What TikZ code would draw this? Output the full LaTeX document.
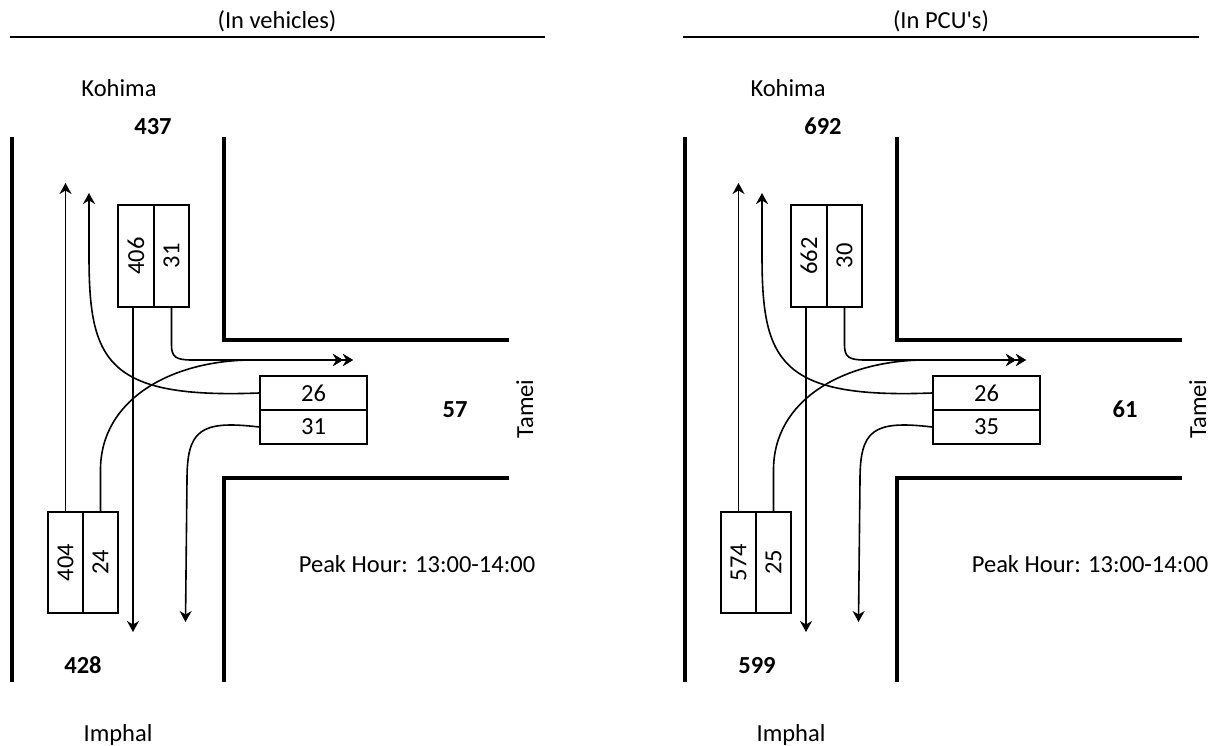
\documentclass[tikz,border=0pt]{standalone}
\usepackage{fontspec}
\setmainfont{Carlito}[Ligatures=TeXOff]
\usetikzlibrary{arrows.meta}
\tikzset{
  road/.style={line width=4pt},
  rulerline/.style={line width=2pt},
  cell/.style={draw, line width=1.8pt, inner sep=0pt, font=\fontsize{24.5}{26}\selectfont},
  flow/.style={line width=1.6pt, -{Stealth[length=11pt,width=12pt,inset=3.5pt]}},
  flowtwo/.style={line width=1.6pt, -{Stealth[length=10pt,width=12pt,inset=3.5pt]Stealth[length=10pt,width=12pt,inset=3.5pt]}},
  lbl/.style={font=\fontsize{24.5}{26}\selectfont, inner sep=0pt},
  tot/.style={font=\fontsize{24.5}{26}\selectfont\bfseries, inner sep=0pt},
}
\newcommand\junction[7]{%
  \draw[road] (12,137) -- (12,682);
  \draw[road] (224,137) -- (224,340) -- (509,340);
  \draw[road] (509,478) -- (224,478) -- (224,682);
  \node[cell, minimum width=36pt, minimum height=102pt] (#1ta) at (136,256) {\rotatebox{90}{#2}};
  \node[cell, minimum width=35pt, minimum height=102pt] (#1tb) at (171.5,256) {\rotatebox{90}{#3}};
  \node[cell, minimum width=107pt, minimum height=34pt] (#1ra) at (313.5,393) {#4};
  \node[cell, minimum width=107pt, minimum height=34pt] (#1rb) at (313.5,427) {#5};
  \node[cell, minimum width=35pt, minimum height=101pt] (#1ba) at (65.5,562.5) {\rotatebox{90}{#6}};
  \node[cell, minimum width=35pt, minimum height=101pt] (#1bb) at (100.5,562.5) {\rotatebox{90}{#7}};
  \coordinate (#1n1) at (65.5,183);
  \coordinate (#1n2) at (89,193);
  \coordinate (#1s1) at (133,632);
  \coordinate (#1s2) at (185.5,622);
  \coordinate (#1e) at (353,360);
  \draw[flow] (#1ba.north) -- (#1n1);
  \draw[flow] (#1ra.west) .. controls (105,399) and (89,360) .. (89,255) -- (#1n2);
  \draw[flow] ([xshift=-3pt]#1ta.south) -- (#1s1);
  \draw[flowtwo] (#1tb.south) -- (171.5,345) .. controls (171.5,357) and (176,360) .. (192,360) -- (#1e);
  \draw[flowtwo] (#1bb.north) -- (100.5,470) .. controls (100.5,400) and (170,361) .. (250,360) -- (#1e);
  \draw[flow] (#1rb.west) .. controls (200,420) and (187,430) .. (187,480) -- (#1s2);
}
\begin{document}
\begin{tikzpicture}[x=1pt,y=-1pt]
\useasboundingbox (0,0) rectangle (1221,746);
% left panel
\junction{L}{406}{31}{26}{31}{404}{24}
\node[lbl, anchor=base] (Lhead) at (277,29) {(In vehicles)};
\draw[rulerline] (10,37) -- (545,37);
\node[lbl, anchor=base] (Lkoh) at (119,97) {Kohima};
\node[lbl, anchor=base] (Limp) at (118,741) {Imphal};
\node[tot, anchor=base] (Ln) at (153,135) {437};
\node[tot, anchor=base] (Ls) at (83,673) {428};
\node[tot, anchor=base] (Le) at (455,417) {57};
\node[lbl, anchor=base, rotate=90] (Ltam) at (533,409) {Tamei};
\node[lbl, anchor=base] (Lpk) at (417,572) {Peak Hour: 13:00-14:00};
% right panel
\begin{scope}[xshift=673pt]
\junction{R}{662}{30}{26}{35}{574}{25}
\end{scope}
\node[lbl, anchor=base] (Rhead) at (941,29) {(In PCU's)};
\draw[rulerline] (683,37) -- (1199,37);
\node[lbl, anchor=base] (Rkoh) at (788,97) {Kohima};
\node[lbl, anchor=base] (Rimp) at (791,741) {Imphal};
\node[tot, anchor=base] (Rn) at (823,135) {692};
\node[tot, anchor=base] (Rs) at (757,673) {599};
\node[tot, anchor=base] (Re) at (1125,417) {61};
\node[lbl, anchor=base, rotate=90] (Rtam) at (1206,409) {Tamei};
\node[lbl, anchor=base] (Rpk) at (1090,572) {Peak Hour: 13:00-14:00};
\end{tikzpicture}
\end{document}
